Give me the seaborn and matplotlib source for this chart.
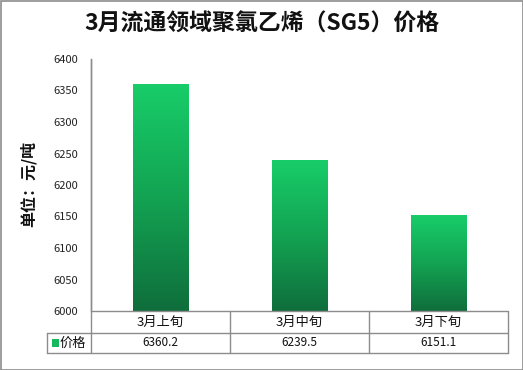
import numpy as np
import pandas as pd
import matplotlib
matplotlib.use("Agg")
import matplotlib.pyplot as plt
from matplotlib.colors import LinearSegmentedColormap
from matplotlib.patches import Rectangle
import seaborn as sns

categories = ["3月上旬", "3月中旬", "3月下旬"]
prices = [6360.2, 6239.5, 6151.1]
value_labels = ["6360.2", "6239.5", "6151.1"]
series_name = "价格"
y_ticks = [6000, 6050, 6100, 6150, 6200, 6250, 6300, 6350, 6400]

sns.set_style("white")
plt.rcParams["font.family"] = ["Noto Sans CJK SC", "DejaVu Sans"]

W, H = 523, 370
fig = plt.figure(figsize=(W / 100, H / 100), dpi=100)

def fx(px):
    return px / W

def fy(py):
    return 1 - py / H

ax_l, ax_r, ax_t, ax_b = 91, 508, 59, 311
ax = fig.add_axes([fx(ax_l), fy(ax_b), fx(ax_r) - fx(ax_l), fy(ax_t) - fy(ax_b)])

df = pd.DataFrame({"旬": categories, series_name: prices})
sns.barplot(data=df, x="旬", y=series_name, ax=ax, width=0.4, color="#16c463")

ax.set_ylim(6000, 6400)
ax.set_xlim(-0.5, 2.5)
ax.set_yticks(y_ticks)
ax.set_yticklabels([str(t) for t in y_ticks], fontsize=8, color="#222222")
ax.tick_params(axis="y", length=0, pad=9)
ax.set_xticks([])
ax.set_xlabel("")
ax.set_ylabel("")
for s in ["top", "right", "bottom"]:
    ax.spines[s].set_visible(False)
ax.spines["left"].set_color("#8c8c8c")
ax.spines["left"].set_linewidth(1)

# vertical green gradient inside each bar
cmap = LinearSegmentedColormap.from_list("grn", ["#0f6e3c", "#13a352", "#18cd69"])
grad = np.linspace(0, 1, 256).reshape(-1, 1)
for p in ax.patches:
    x0, w = p.get_x(), p.get_width()
    y0, h = p.get_y(), p.get_height()
    p.set_facecolor("none")
    p.set_edgecolor("none")
    ax.imshow(grad, cmap=cmap, origin="lower", aspect="auto",
              extent=[x0, x0 + w, ax.get_ylim()[0], y0 + h], zorder=2)
ax.set_xlim(-0.5, 2.5)
ax.set_ylim(6000, 6400)

# data table under the plot
line_c = "#8c8c8c"
col_x = [91, 229.5, 369, 508]
def hline(x0, x1, y):
    fig.add_artist(plt.Line2D([fx(x0), fx(x1)], [fy(y), fy(y)], color=line_c, lw=1))
def vline(x, y0, y1):
    fig.add_artist(plt.Line2D([fx(x), fx(x)], [fy(y0), fy(y1)], color=line_c, lw=1))

hline(91, 508, 311)
hline(47, 508, 333)
hline(47, 508, 353)
vline(47, 333, 353)
for x in col_x:
    vline(x, 311 if x > 91 else 59, 353)

for i, cat in enumerate(categories):
    cx = (col_x[i] + col_x[i + 1]) / 2
    fig.text(fx(cx), fy(322), cat, ha="center", va="center", fontsize=9.5, color="#111111")
    fig.text(fx(cx), fy(343), value_labels[i], ha="center", va="center", fontsize=8.5, color="#111111")

fig.add_artist(Rectangle((fx(52), fy(346.5)), fx(6.5), fy(339) - fy(346.5),
                         facecolor="#16b85e", edgecolor="none"))
fig.text(fx(60), fy(343), series_name, ha="left", va="center", fontsize=9.5, color="#111111")

# title and unit label
fig.text(0.5, fy(24), "3月流通领域聚氯乙烯（SG5）价格", ha="center", va="center",
         fontsize=16.5, fontweight="bold", color="#111111")
fig.text(fx(28), fy(184), "单位：元/吨", rotation=90, ha="center", va="center",
         fontsize=11.5, fontweight="bold", color="#111111")

# outer frame
fig.add_artist(Rectangle((fx(0.5), fy(369.5)), fx(522), fy(0.5) - fy(369.5),
                         facecolor="none", edgecolor="#8c8c8c", lw=1.2))

fig.savefig("out.png", dpi=100, facecolor="white")
